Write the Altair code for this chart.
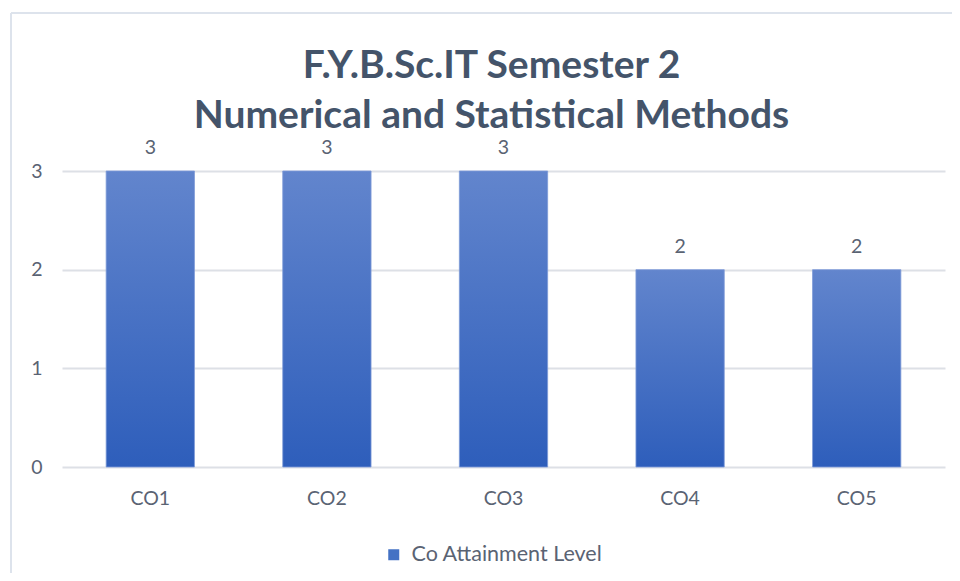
import altair as alt
import pandas as pd

categories = ["CO1", "CO2", "CO3", "CO4", "CO5"]
values = [3, 3, 3, 2, 2]
series_name = "Co Attainment Level"
title_lines = ["F.Y.B.Sc.IT Semester 2", "Numerical and Statistical Methods"]

df = pd.DataFrame({"CO": categories, "value": values, "series": [series_name] * len(categories)})

W, H = 883, 296
PAD_L, PAD_T = 54, 163
PAD_R = 944 - PAD_L - W
PAD_B = 565 - PAD_T - H

FONT = "Lato"
LABEL_COLOR = "#5A6373"
TITLE_COLOR = "#44546A"
GRID = "#DDE0E6"

gradient = alt.Gradient(
    gradient="linear",
    stops=[alt.GradientStop(color="#6285CD", offset=0), alt.GradientStop(color="#2E5EBB", offset=1)],
    x1=0, x2=0, y1=0, y2=1,
)

x_enc = alt.X("CO:N", sort=categories,
              scale=alt.Scale(paddingInner=0.5, paddingOuter=0.25),
              axis=alt.Axis(title=None, labelAngle=0, domain=False, ticks=False, grid=False,
                            labelFontSize=19.5, labelFont=FONT, labelColor=LABEL_COLOR, labelPadding=22))
y_enc = alt.Y("value:Q", scale=alt.Scale(domain=[0, 3], nice=False),
              axis=alt.Axis(title=None, values=[0, 1, 2, 3], format="d", domain=False, ticks=False,
                            grid=True, gridColor=GRID, gridWidth=2,
                            labelFontSize=19.5, labelFont=FONT, labelColor=LABEL_COLOR, labelPadding=20))

base = alt.Chart(df)

bars = base.mark_bar(fill=gradient, stroke="#7E9BD8", strokeWidth=0.8).encode(x=x_enc, y=y_enc)

labels = base.mark_text(baseline="alphabetic", dy=-17, font=FONT, fontSize=19.5, color=LABEL_COLOR).encode(
    x=alt.X("CO:N", sort=categories), y="value:Q", text=alt.Text("value:Q", format="d"))

legend_layer = base.mark_square(opacity=0).encode(
    x=alt.X("CO:N", sort=categories), y="value:Q",
    color=alt.Color("series:N", scale=alt.Scale(range=["#4472C4"]),
                    legend=alt.Legend(title=None, orient="none", legendX=321, legendY=373,
                                      symbolType="square", symbolSize=121, symbolOpacity=1,
                                      symbolStrokeWidth=0, labelLimit=0,
                                      labelFont=FONT, labelFontSize=21.5, labelColor=LABEL_COLOR,
                                      labelOffset=7)))

border_left = base.mark_rule(color="#DDE3EC", strokeWidth=2).encode(
    x=alt.value(-51), y=alt.value(-158), y2=alt.value(H + PAD_B + 10))
border_top = base.mark_rule(color="#DDE3EC", strokeWidth=2).encode(
    x=alt.value(-51), x2=alt.value(W + PAD_R + 10), y=alt.value(-158))

chart = alt.layer(border_left, border_top, bars, labels, legend_layer).properties(
    width=W, height=H,
    autosize=alt.AutoSizeParams(type="none"),
    padding={"left": PAD_L, "top": PAD_T, "right": PAD_R, "bottom": PAD_B},
    title=alt.TitleParams(text=title_lines, font=FONT, fontSize=39, fontWeight="bold",
                          color=TITLE_COLOR, anchor="middle", lineHeight=50, offset=0, dy=124,
                          dx=-12),
).configure_view(stroke=None)

chart.save("out.html", embed_options={"renderer": "svg", "actions": False})
